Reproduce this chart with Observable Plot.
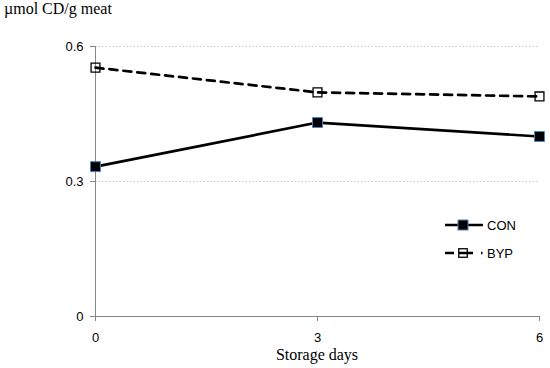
<!DOCTYPE html>
<html>
<head>
<meta charset="utf-8">
<script src="https://cdn.jsdelivr.net/npm/d3@7"></script>
<script src="https://cdn.jsdelivr.net/npm/@observablehq/plot@0.6"></script>
<style>
  html, body { margin: 0; padding: 0; background: #fff; }
  #wrap { position: relative; width: 550px; height: 368px; }
  #title { position: absolute; left: 4px; top: 0px; font-family: "Liberation Serif", serif; font-size: 16px; color: #000; white-space: nowrap; }
  #xlabel { position: absolute; left: 0; width: 634px; text-align: center; top: 346px; font-family: "Liberation Serif", serif; font-size: 16px; color: #000; }
  #legend { position: absolute; left: 440px; top: 214px; font-family: "Liberation Sans", sans-serif; font-size: 13px; }
  svg { overflow: visible; }
</style>
</head>
<body>
<div id="wrap">
  <div id="chart"></div>
  <div id="title"></div>
  <div id="xlabel"></div>
  <div id="legend"></div>
</div>
<script>
const days = [0, 3, 6];
const conValues = [0.333, 0.431, 0.400];
const bypValues = [0.553, 0.498, 0.489];
const seriesNames = ["CON", "BYP"];
const xTicks = [0, 3, 6];
const yTicks = [0, 0.3, 0.6];
const gridTicks = [0.3, 0.6];
const yTitle = "\u00b5mol CD/g meat";
const xTitle = "Storage days";

const con = days.map((d, i) => ({day: d, value: conValues[i]}));
const byp = days.map((d, i) => ({day: d, value: bypValues[i]}));

const axisGray = "#868686";

const chart = Plot.plot({
  width: 550,
  height: 368,
  marginTop: 46,
  marginRight: 11,
  marginBottom: 52,
  marginLeft: 95,
  style: {fontFamily: "'Liberation Sans', sans-serif", fontSize: "13px", background: "#fff"},
  x: {domain: [0, 6]},
  y: {domain: [0, 0.6]},
  marks: [
    Plot.gridY(gridTicks, {stroke: "#c8c8c8", strokeOpacity: 1, strokeDasharray: "1.5,2"}),
    Plot.ruleY([0], {stroke: axisGray}),
    Plot.ruleX([0], {stroke: axisGray}),
    Plot.axisX({ticks: xTicks, tickSize: 5, tickPadding: 11, stroke: axisGray, fill: "#000", fontSize: 13, label: null,
      tickFormat: d => String(d)}),
    Plot.axisY({ticks: yTicks, tickSize: 5, tickPadding: 7, stroke: axisGray, fill: "#000", fontSize: 13, label: null,
      tickFormat: d => d === 0 ? "0" : d.toFixed(1)}),
    Plot.line(con, {x: "day", y: "value", stroke: "#000", strokeWidth: 2.7}),
    Plot.line(byp, {x: "day", y: "value", stroke: "#000", strokeWidth: 2.7, strokeDasharray: "8,6"}),
    Plot.dot(con, {x: "day", y: "value", symbol: "square", r: 5.6, fill: "#000", stroke: "#4f81bd", strokeWidth: 1}),
    Plot.dot(byp, {x: "day", y: "value", symbol: "square", r: 5.0, fill: "none", stroke: "#000", strokeWidth: 1.3})
  ]
});
document.getElementById("chart").appendChild(chart);
document.getElementById("title").textContent = yTitle;
document.getElementById("xlabel").textContent = xTitle;

// legend
const leg = d3.select("#legend").append("svg").attr("width", 100).attr("height", 60);
const rows = [
  {name: seriesNames[0], y: 11, dash: null, fill: "#000", stroke: "#4f81bd", sw: 1, side: 10},
  {name: seriesNames[1], y: 39, dash: "9,5,14,8,1.5,20", fill: "none", stroke: "#000", sw: 1.3, side: 8.5}
];
rows.forEach(r => {
  const line = leg.append("line").attr("x1", 5).attr("x2", 43).attr("y1", r.y).attr("y2", r.y)
    .attr("stroke", "#000").attr("stroke-width", 2.7);
  if (r.dash) line.attr("stroke-dasharray", r.dash);
  leg.append("rect").attr("x", 23 - r.side / 2).attr("y", r.y - r.side / 2).attr("width", r.side).attr("height", r.side)
    .attr("fill", r.fill).attr("stroke", r.stroke).attr("stroke-width", r.sw);
  leg.append("text").attr("x", 47).attr("y", r.y).attr("dy", "0.35em").attr("font-size", 13)
    .attr("font-family", "'Liberation Sans', sans-serif").text(r.name);
});
</script>
</body>
</html>
